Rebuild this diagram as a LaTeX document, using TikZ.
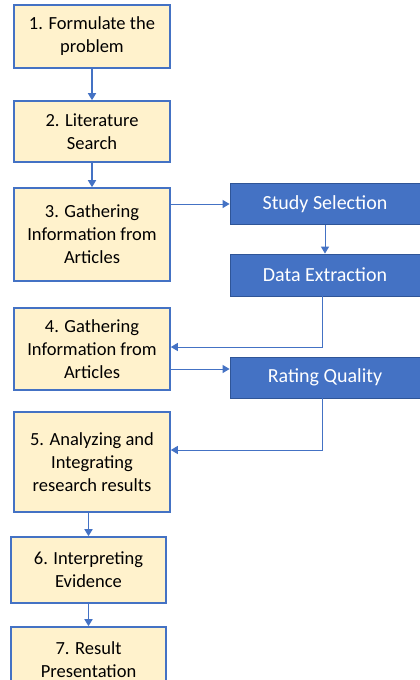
\documentclass[tikz,border=0pt]{standalone}
\usepackage{fontspec}
\setmainfont{Carlito}
\usetikzlibrary{arrows.meta}
\definecolor{boxfill}{HTML}{FFF2CC}
\definecolor{boxline}{HTML}{4472C4}
\definecolor{darkfill}{HTML}{4472C4}
\definecolor{darkline}{HTML}{2F5597}

\begin{document}
\begin{tikzpicture}[x=1pt, y=-1pt,
    stepbox/.style={draw=boxline, fill=boxfill, line width=1.6pt, align=center,
        minimum width=156pt, inner sep=0pt, font=\fontsize{18.5}{23}\selectfont},
    subbox/.style={draw=darkline, fill=darkfill, line width=0.8pt, text=white,
        minimum width=190pt, minimum height=41pt, inner sep=0pt,
        font=\fontsize{20}{23}\selectfont},
    mainarrow/.style={draw=boxline, line width=1.6pt, -{Triangle[length=7pt, width=8pt]}},
    sidearrow/.style={draw=boxline, line width=1pt, -{Triangle[length=7pt, width=8pt]}}]
    \clip (0,0) rectangle (420,680);
    \fill[white] (0,0) rectangle (420,680);
    \node [stepbox, minimum height=63pt] (s1) at (92,36.5) {1. Formulate the\\problem};
    \node [stepbox, minimum height=61pt] (s2) at (92,131.5) {2. Literature\\Search};
    \node [stepbox, minimum height=93pt] (s3) at (92,234.5) {3. Gathering\\Information from\\Articles};
    \node [stepbox, minimum height=82pt] (s4) at (92,349) {4. Gathering\\Information from\\Articles};
    \node [stepbox, minimum height=100pt] (s5) at (92,462) {5. Analyzing and\\Integrating\\research results};
    \node [stepbox, minimum width=155pt, minimum height=66pt] (s6) at (88.5,570) {6. Interpreting\\Evidence};
    \node [stepbox, minimum width=155pt, minimum height=66pt] (s7) at (88.5,660) {7. Result\\Presentation};
    \node [subbox] (study) at (325,204) {Study Selection};
    \node [subbox, minimum height=42pt] (data) at (325,275) {Data Extraction};
    \node [subbox] (rating) at (325,377.5) {Rating Quality};
    \coordinate (s4out) at ([yshift=-20pt]s4.east);
    \draw [mainarrow] (s1) -- (s2);
    \draw [mainarrow] (s2) -- (s3);
    \draw [mainarrow] (s5.south -| s6) -- (s6);
    \draw [mainarrow] (s6) -- (s7);
    \draw [sidearrow] (s3.east |- study) -- (study.west);
    \draw [sidearrow] (study) -- (data);
    \draw [sidearrow] ([xshift=-3pt]data.south) |- ([yshift=2pt]s4.east);
    \draw [sidearrow] (s4out) -- (rating.west |- s4out);
    \draw [sidearrow] ([xshift=-3pt]rating.south) |- ([yshift=12pt]s5.east);
\end{tikzpicture}
\end{document}
